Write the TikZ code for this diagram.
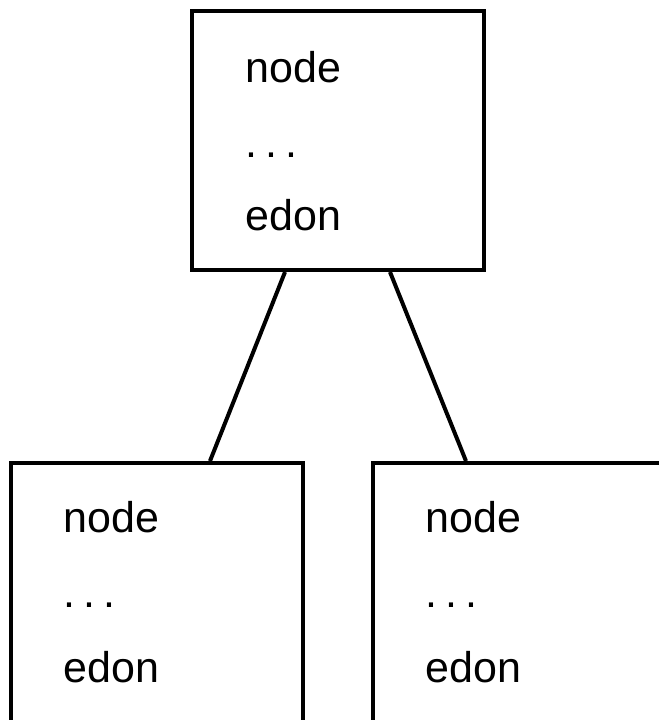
\documentclass[tikz,border=0pt]{standalone}
\usepackage{fontspec}
\setmainfont{Liberation Sans}
\newcommand{\mydots}{.\kern0.19em.\kern0.19em.}
\begin{document}
\begin{tikzpicture}[x=0.5pt,y=-0.5pt,
  box/.style={draw,line width=2pt,minimum width=146pt,minimum height=129.5pt,inner sep=0pt},
  txt/.style={anchor=base west,inner sep=0pt,font=\fontsize{21.5pt}{26pt}\selectfont},
  conn/.style={line width=2pt}]
\clip (0,0) rectangle (659,720);
\node[box] (top) at (338.5,140.5) {};
\node[box] (bl) at (157.5,592.5) {};
\node[box] (br) at (519,592.5) {};
\node[txt] (t1) at (245,82) {node};
\node[txt] (t2) at (245,157) {\mydots};
\node[txt] (t3) at (245,230) {edon};
\node[txt] (l1) at (63,532) {node};
\node[txt] (l2) at (63,607) {\mydots};
\node[txt] (l3) at (63,682) {edon};
\node[txt] (r1) at (425,532) {node};
\node[txt] (r2) at (425,607) {\mydots};
\node[txt] (r3) at (425,682) {edon};
\draw[conn] ([xshift=-26.75pt]top.south) -- ([xshift=26.25pt]bl.north);
\draw[conn] ([xshift=25.75pt]top.south) -- ([xshift=-26.5pt]br.north);
\end{tikzpicture}
\end{document}
